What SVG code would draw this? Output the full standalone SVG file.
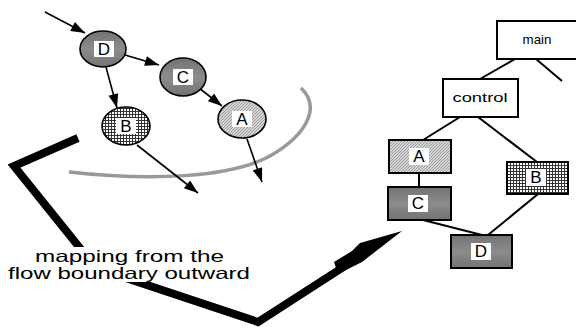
<svg xmlns="http://www.w3.org/2000/svg" width="576" height="328" viewBox="0 0 576 328">
<defs>
<pattern id="hatch" width="3" height="3" patternUnits="userSpaceOnUse">
<rect width="3" height="3" fill="#d6d6d6"/>
<path d="M0 3 L3 0" stroke="#8a8a8a" stroke-width="0.8"/>
</pattern>
<pattern id="grid" width="3" height="3" patternUnits="userSpaceOnUse">
<rect width="3" height="3" fill="#ffffff"/>
<path d="M0 0.5 H3 M0.5 0 V3" stroke="#333" stroke-width="1"/>
</pattern>
<linearGradient id="dark" x1="0" y1="0" x2="0" y2="1">
<stop offset="0" stop-color="#727272"/>
<stop offset="0.5" stop-color="#8c8c8c"/>
<stop offset="1" stop-color="#727272"/>
</linearGradient>
<marker id="ah2" viewBox="0 0 14 10" refX="14" refY="5" markerWidth="16" markerHeight="10" orient="auto" markerUnits="userSpaceOnUse">
<path d="M0 0 L14 5 L0 10 Z" fill="#000"/>
</marker>
</defs>
<style>
.lbl{font-family:"Liberation Sans",Arial,sans-serif;font-size:17px;fill:#000;text-anchor:middle}
.box{stroke:#000;stroke-width:2}
.circ{stroke:#000;stroke-width:1.6}
.lb{fill:#fff}
.arr{stroke:#000;stroke-width:1.6;fill:none;marker-end:url(#ah2)}
.tree{stroke:#000;stroke-width:2;fill:none}
.cap{font-family:"Liberation Sans",Arial,sans-serif;font-size:16.5px;fill:#000}
</style>
<rect width="576" height="328" fill="#fff"/>

<!-- gray boundary curve -->
<path d="M69 172 C150 181 230 178 270 156 C305 136 322 108 301 88" fill="none" stroke="#999" stroke-width="3.5"/>

<g id="connectors">
<line class="arr" x1="45" y1="12" x2="85" y2="33"/>
<line class="arr" x1="125" y1="55" x2="159" y2="65"/>
<line class="arr" x1="106" y1="67" x2="117" y2="108"/>
<line class="arr" x1="199" y1="88" x2="222" y2="106"/>
<line class="arr" x1="137" y1="145" x2="198" y2="193"/>
<line class="arr" x1="247" y1="139" x2="262" y2="182"/>

<line class="tree" x1="515" y1="59" x2="480" y2="79"/>
<line class="tree" x1="536" y1="59" x2="562" y2="81"/>
<line class="tree" x1="460" y1="117" x2="423" y2="140"/>
<line class="tree" x1="478" y1="117" x2="537" y2="162"/>
<line class="tree" x1="419" y1="173" x2="419" y2="187"/>
<line class="tree" x1="423" y1="220" x2="482" y2="235"/>
<line class="tree" x1="538" y1="194" x2="488" y2="235"/>
</g>

<!-- big mapping arrow -->
<g id="mapping-arrow">
<polyline points="78,138 14,166 96,268 258,322 345,266" fill="none" stroke="#000" stroke-width="8" stroke-linejoin="miter"/>
<polygon points="402,231 360,243 352,251 334,262 338,274 362,262" fill="#000"/>
</g>

<g id="caption">
<rect x="8" y="247" width="244" height="35" fill="#fff"/>
<text class="cap" x="35" y="262" textLength="189" lengthAdjust="spacingAndGlyphs">mapping from the</text>
<text class="cap" x="8" y="279" textLength="242" lengthAdjust="spacingAndGlyphs">flow boundary outward</text>
</g>

<g id="circle-D">
<ellipse class="circ" cx="103" cy="49" rx="23" ry="18" fill="url(#dark)"/>
<rect class="lb" x="94" y="41" width="20" height="16"/>
<text class="lbl" x="104" y="55">D</text>
</g>
<g id="circle-C">
<ellipse class="circ" cx="183" cy="77" rx="23" ry="19" fill="url(#dark)"/>
<rect class="lb" x="173" y="69" width="20" height="16"/>
<text class="lbl" x="183" y="83">C</text>
</g>
<g id="circle-B">
<ellipse class="circ" cx="126" cy="126" rx="24" ry="19" fill="url(#grid)"/>
<rect class="lb" x="116" y="118" width="20" height="16"/>
<text class="lbl" x="126" y="132">B</text>
</g>
<g id="circle-A">
<ellipse class="circ" cx="242" cy="119" rx="24" ry="19" fill="url(#hatch)"/>
<rect class="lb" x="232" y="111" width="20" height="16"/>
<text class="lbl" x="242" y="125">A</text>
</g>

<g id="box-main">
<rect class="box" x="497" y="21" width="80" height="38" fill="#fff"/>
<text class="lbl" x="537" y="44" textLength="29" lengthAdjust="spacingAndGlyphs" style="font-size:13.5px">main</text>
</g>
<g id="box-control">
<rect class="box" x="443" y="79" width="75" height="38" fill="#fff"/>
<text class="lbl" x="480" y="102" textLength="55" lengthAdjust="spacingAndGlyphs" style="font-size:13.5px">control</text>
</g>
<g id="box-A">
<rect class="box" x="389" y="140" width="62" height="33" fill="url(#hatch)"/>
<rect class="lb" x="409" y="148" width="20" height="17"/>
<text class="lbl" x="419" y="162">A</text>
</g>
<g id="box-C">
<rect class="box" x="388" y="187" width="63" height="33" fill="url(#dark)"/>
<rect class="lb" x="408" y="195" width="20" height="17"/>
<text class="lbl" x="418" y="209">C</text>
</g>
<g id="box-B">
<rect class="box" x="507" y="162" width="61" height="32" fill="url(#grid)"/>
<rect class="lb" x="526" y="169" width="20" height="17"/>
<text class="lbl" x="536" y="183">B</text>
</g>
<g id="box-D">
<rect class="box" x="451" y="235" width="61" height="33" fill="url(#dark)"/>
<rect class="lb" x="471" y="243" width="20" height="17"/>
<text class="lbl" x="481" y="257">D</text>
</g>
</svg>
